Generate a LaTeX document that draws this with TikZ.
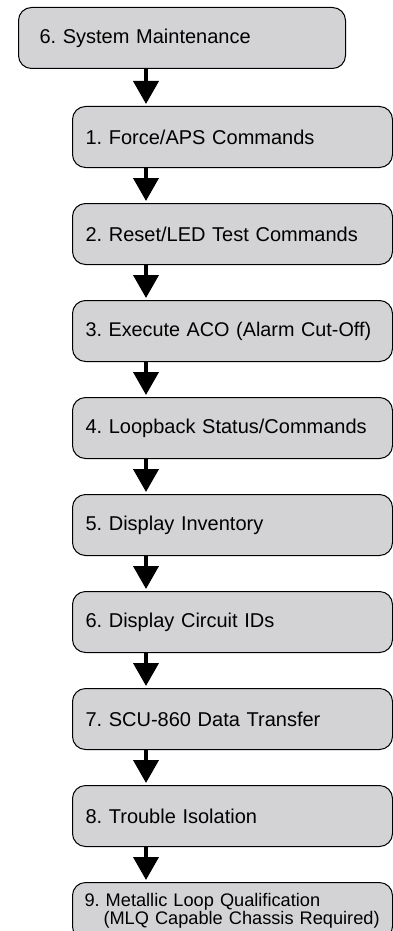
\documentclass[tikz,border=0pt]{standalone}
\usepackage{fontspec}
\setmainfont{Liberation Sans}
\frenchspacing
\usetikzlibrary{positioning,arrows.meta}
\definecolor{menugray}{RGB}{211,211,213}
\tikzset{
  menu/.style={draw=black, line width=1pt, fill=menugray, rounded corners=13pt,
    minimum height=61pt, inner xsep=13pt, text width=294pt, align=left,
    font=\fontsize{20}{24}\selectfont},
  flow/.style={-{Triangle[width=25pt,length=23pt]}, line width=4pt, shorten >=2pt}
}
\begin{document}
\begin{tikzpicture}[x=1pt,y=1pt]
  \useasboundingbox (0,0) rectangle (393,-931);
  \node [menu, anchor=north west, inner xsep=21pt, text width=285pt] (top) at (18,-7)
    {6. System Maintenance};
  \node [menu, below right=37pt and 54pt of top.south west] (b1) {1. Force/APS Commands};
  \node [menu, below=35pt of b1] (b2) {2. Reset/LED Test Commands};
  \node [menu, below=35pt of b2, font=\fontsize{19.8}{24}\selectfont] (b3)
    {\mbox{3. Execute ACO (Alarm Cut-Off)}};
  \node [menu, below=35pt of b3] (b4) {4. Loopback Status/Commands};
  \node [menu, below=35pt of b4] (b5) {5. Display Inventory};
  \node [menu, below=35pt of b5] (b6) {6. Display Circuit IDs};
  \node [menu, below=35pt of b6] (b7) {7. SCU-860 Data Transfer};
  \node [menu, below=35pt of b7] (b8) {8. Trouble Isolation};
  \node [menu, below=35pt of b8, minimum height=57pt, inner xsep=12pt, text width=296pt,
    font=\fontsize{18.2}{18}\selectfont] (b9)
    {9. Metallic Loop Qualification\\\hspace*{19pt}(MLQ Capable Chassis Required)};
  % arrows down the left side
  \draw [flow] ([xshift=74pt]b1.north west |- top.south) -- ([xshift=74pt]b1.north west);
  \foreach \a/\b in {b1/b2,b2/b3,b3/b4,b4/b5,b5/b6,b6/b7,b7/b8,b8/b9}
    \draw [flow] ([xshift=74pt]\a.south west) -- ([xshift=74pt]\b.north west);
\end{tikzpicture}
\end{document}
